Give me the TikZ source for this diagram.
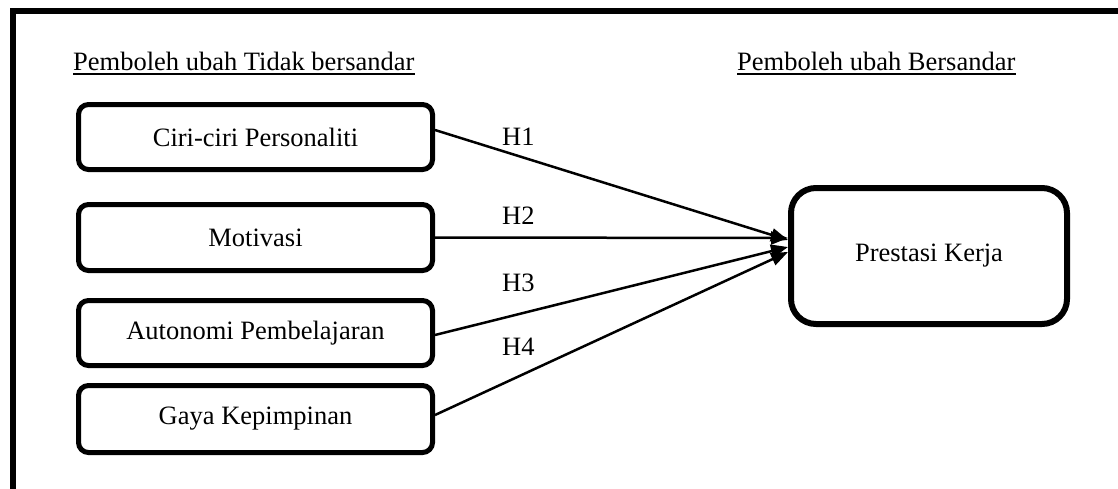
\documentclass[tikz,border=0pt]{standalone}
\usepackage{fontspec}
\setmainfont{Liberation Serif}
\usetikzlibrary{arrows.meta}
\begin{document}
\begin{tikzpicture}[x=1pt,y=-1pt,
  every node/.style={font=\fontsize{26.5}{32}\selectfont},
  ivbox/.style={draw,line width=5pt,rounded corners=10pt,minimum width=354pt,inner sep=0pt},
  dvbox/.style={draw,line width=6pt,rounded corners=25pt,minimum width=276pt,minimum height=136pt,inner sep=0pt},
  head/.style={inner sep=0pt,anchor=base west},
  hlab/.style={inner sep=0pt,anchor=west},
  conn/.style={line width=2.5pt,-{Triangle[length=17pt,width=13pt]}},
  uline/.style={line width=2pt}
]
\useasboundingbox (0,0) rectangle (1118,488);
\draw[line width=6pt] (12.5,495) -- (12.5,11) -- (1125,11);

\node[head] (h1) at (73,70) {Pemboleh ubah Tidak bersandar};
\node[head] (h2) at (737,70) {Pemboleh ubah Bersandar};
\draw[uline] ([yshift=-4pt]h1.base west) -- ([yshift=-4pt]h1.base east);
\draw[uline] ([yshift=-4pt]h2.base west) -- ([yshift=-4pt]h2.base east);

\node[ivbox,minimum height=65pt] (b1) at (255.5,137) {Ciri-ciri Personaliti};
\node[ivbox,minimum height=66pt] (b2) at (255.5,237.5) {Motivasi};
\node[ivbox,minimum height=65pt] (b3) at (255.5,333) {Autonomi Pembelajaran};
\node[ivbox,minimum height=67pt] (b4) at (255.5,419) {Gaya Kepimpinan};

\node[dvbox] (pk) at (929,256) {Prestasi Kerja};

\draw[conn] ([yshift=7pt]b1.east) -- ([yshift=16pt]pk.west);
\draw[conn] (b2.east) -- ([yshift=18pt]pk.west);
\draw[conn] ([yshift=-2pt]b3.east) -- ([yshift=9pt]pk.west);
\draw[conn] ([yshift=4pt]b4.east) -- ([yshift=4pt]pk.west);

\node[hlab] (l1) at (502,137) {H1};
\node[hlab] (l2) at (502,216) {H2};
\node[hlab] (l3) at (502,283) {H3};
\node[hlab] (l4) at (502,347) {H4};
\end{tikzpicture}
\end{document}
